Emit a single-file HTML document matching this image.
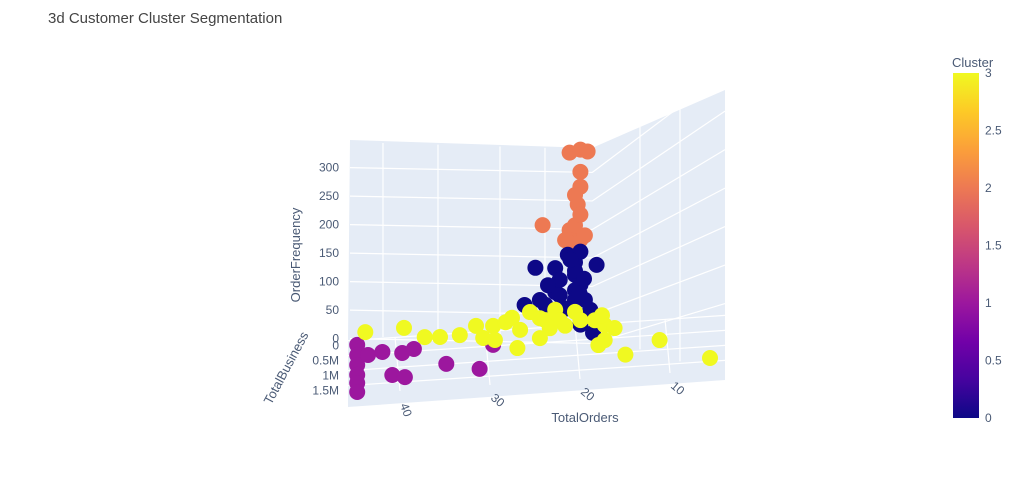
<!DOCTYPE html>
<html><head><meta charset="utf-8"><style>
body{margin:0;background:#fff;font-family:"Liberation Sans",sans-serif;}
svg text{font-family:"Liberation Sans",sans-serif;fill:#4a5a75;}
</style></head><body>
<svg id="chart" width="1024" height="491" viewBox="0 0 1024 491">
<defs><linearGradient id="plasma" x1="0" y1="1" x2="0" y2="0">
<stop offset="0" stop-color="#0d0887"/><stop offset="0.111" stop-color="#46039f"/><stop offset="0.222" stop-color="#7201a8"/><stop offset="0.333" stop-color="#9c179e"/><stop offset="0.444" stop-color="#bd3786"/><stop offset="0.556" stop-color="#d8576b"/><stop offset="0.667" stop-color="#ed7953"/><stop offset="0.778" stop-color="#fb9f3a"/><stop offset="0.889" stop-color="#fdca26"/><stop offset="1" stop-color="#f0f921"/></linearGradient></defs>
<text x="48" y="23" font-size="15" style="fill:#444">3d Customer Cluster Segmentation</text>
<polygon points="350,140 592,148 725,90 725,380 348,407 348,340" fill="#e5ecf6"/>
<g id="grid" stroke="#fff" stroke-width="1.2" fill="none"></g>
<g id="ticks"></g>
<g id="points"></g>
<text transform="translate(300,255) rotate(-90)" text-anchor="middle" font-size="13">OrderFrequency</text>
<text transform="translate(290,370) rotate(-62)" text-anchor="middle" font-size="13">TotalBusiness</text>
<text x="585" y="422" text-anchor="middle" font-size="13">TotalOrders</text>
<text x="952" y="67" font-size="13">Cluster</text>
<rect x="953" y="73" width="26" height="345" fill="url(#plasma)"/>
<g id="cbticks"></g>
</svg>
<script>
const orders   = [20.6,19.4,18.6,19.4,19.4,19.7,23.6,20,20.6,19.4,21.1,20,20.6,18.9,19.4,
  24.4,22.2,17.6,20,20,20,20,21.7,23.9,25.6,23.3,22.2,18.9,18.3,19.4,18,21.7,23,19.4,20.8,19.4,20,19,21,20.5,19.5,18.8,
  44.2,44.2,44.2,44.2,44.2,44.2,43,41.4,39.2,37.9,40.3,38.9,34.3,30.6,29.1,
  43.3,39,36.7,35,32.8,31,30.2,29.1,27.7,27,26.1,25,23.9,22.2,21.7,20,19.4,17.8,16.7,15.6,17.4,16.7,14.4,10.6,5,26.4,23.9,28.9,23.3,21.1,22.8,17];
const business = [0,0,0,0,0,0,0,0,0,0,0,0,0,0,0,
  0,0,0,0,0,0,0,0,0,0,0,0,0,0,0,0.3,0,0,0,0,0,0,0,0,0,0,0,
  0.18,0.52,0.85,1.18,1.45,1.75,0.54,0.47,0.55,0.44,1.26,1.36,1.01,1.25,0.48,
  0,0,0.07,0.1,0.08,0,0.23,0,0,0,0.04,0,0,0,0,0,0,0,0.07,0.19,0.72,0.57,1.1,0.69,1.4,0.64,0.36,0.32,0,0,0.05,0];
const frequency = [303,307,303,242,268,211,179,228,167,149,150,175,144,156,193,
  105,102,103,110,88,61,44,54,48,41,39,60,43,25,0,0,81,73,70,124,128,95,80,30,115,55,15,
  0,0,0,0,0,0,0,0,0,0,0,0,0,0,0,
  12,15,0,0,0,10,0,8,13,20,0,28,16,29,10,23,8,6,0,0,0,0,0,0,0,0,0,0,12,0,0,14];
const cluster = [2,2,2,2,2,2,2,2,2,2,2,2,2,2,2,
  0,0,0,0,0,0,0,0,0,0,0,0,0,0,0,0,0,0,0,0,0,0,0,0,0,0,0,
  1,1,1,1,1,1,1,1,1,1,1,1,1,1,1,
  3,3,3,3,3,3,3,3,3,3,3,3,3,3,3,3,3,3,3,3,3,3,3,3,3,3,3,3,3,3,3,3];
const zTicks = [0,50,100,150,200,250,300];
const yTicks = [0,0.5,1,1.5];
const yTickLabels = ["0","0.5M","1M","1.5M"];
const xTicks = [40,30,20,10];
const cbTicks = [0,0.5,1,1.5,2,2.5,3];
const colors = ["#0d0887","#9c179e","#ed7953","#f0f921"];

const NS="http://www.w3.org/2000/svg";
function px(x,y,z){return 395+(40-x)*9;}
function py(x,y,z){return 337-(40-x)*0.6+y*30-z*0.57;}
function mk(tag,attrs,parent){const e=document.createElementNS(NS,tag);for(const k in attrs)e.setAttribute(k,attrs[k]);parent.appendChild(e);return e;}

const grid=document.getElementById('grid');
zTicks.forEach(z=>{
  const l=mk('line',{x1:350,y1:py(46,0,z)-2,x2:592,y2:py(46,0,z)-2+(592-350)*0.02},grid);
  
  
  const r=mk('line',{x1:592,y1:py(46,0,z)+3,x2:725,y2:py(46,0,z)+3-(40+z*0.2)},grid);
  
  
});
[383,438,500,545].forEach(x=>{
  const l=mk('line',{x1:x,y1:142+(x-350)*0.03,x2:x,y2:337},grid);
  
  
});
[640,680].forEach(x=>{
  const l=mk('line',{x1:x,y1:148-(x-592)*0.44,x2:x,y2:335+(x-592)*0.3},grid);
  
  
});
xTicks.forEach(x=>{
  const l=mk('line',{x1:px(x,0,0),y1:py(x,0,0),x2:px(x,0,0)+5,y2:py(x,1.8,0)},grid);
  
  
});
yTicks.forEach(y=>{
  const l=mk('line',{x1:348,y1:py(46,y,0),x2:725,y2:py(4,y,0)},grid);
  
  
});

const ticks=document.getElementById('ticks');
zTicks.forEach(z=>{
  const t=mk('text',{x:339,y:py(46,0,z)+2,'text-anchor':'end','font-size':12},ticks);
  t.textContent=z;
  
  
});
yTicks.forEach((y,i)=>{
  const t=mk('text',{x:339,y:py(46,y,0)+9,'text-anchor':'end','font-size':12},ticks);
  t.textContent=yTickLabels[i];
  
  
});
xTicks.forEach(x=>{
  const X=px(x,0,0)+5, Y=py(x,1.8,0)+14;
  const t=mk('text',{transform:`translate(${X},${Y}) rotate(${x>30?70:40})`,'font-size':12},ticks);
  t.textContent=x;
  
  
});

const pts=document.getElementById('points');
[2,0,1,3].forEach(c=>{
  for(let i=0;i<orders.length;i++){
    if(cluster[i]!==c)continue;
    const p=mk('circle',{cx:px(orders[i],business[i],frequency[i]),cy:py(orders[i],business[i],frequency[i]),r:8,fill:colors[c]},pts);
    
    
  }
});

const cb=document.getElementById('cbticks');
cbTicks.forEach(v=>{
  const t=mk('text',{x:985,y:418-v/3*345+4,'font-size':12},cb);
  t.textContent=v;
  
  
});
</script>
</body></html>
